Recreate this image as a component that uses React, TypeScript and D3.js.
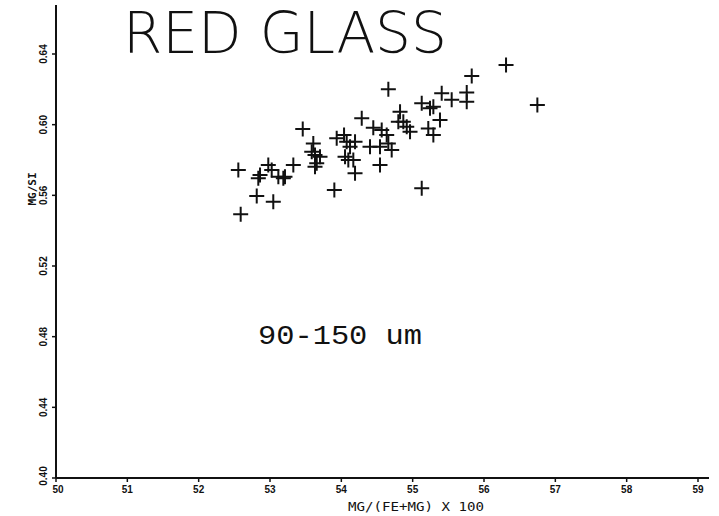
import React from "react";
import * as d3 from "d3";

const title = "RED GLASS";
const subtitle = "90-150 um";
const xTitle = "MG/(FE+MG) X 100";
const yTitle = "MG/SI";
const xTicks = [50, 51, 52, 53, 54, 55, 56, 57, 58, 59];
const xTickLabels = ["50", "51", "52", "53", "54", "55", "56", "57", "58", "59"];
const yTicks = [0.4, 0.44, 0.48, 0.52, 0.56, 0.6, 0.64];
const yTickLabels = ["0.40", "0.44", "0.48", "0.52", "0.56", "0.60", "0.64"];

const mgNumber = [
  52.556, 52.589, 52.814, 53.046, 52.836, 52.86, 52.976, 53.024, 53.117, 53.187,
  53.21, 53.327, 53.459, 53.607, 53.585, 53.631, 53.701, 53.655, 53.631, 53.902,
  53.935, 54.038, 54.075, 54.122, 54.192, 54.052, 54.098, 54.168, 54.192, 54.286,
  54.402, 54.448, 54.542, 54.566, 54.636, 54.659, 54.706, 54.542, 54.659, 54.823,
  54.799, 54.869, 54.917, 54.963, 55.127, 55.127, 55.243, 55.29, 55.219, 55.29,
  55.383, 55.407, 55.547, 55.758, 55.758, 55.828, 56.309, 56.748,
];
const mgSi = [
  0.5743, 0.5493, 0.5596, 0.5564, 0.5696, 0.5715, 0.5772, 0.5743, 0.5705, 0.5696,
  0.5705, 0.5772, 0.5975, 0.5894, 0.5847, 0.5828, 0.5819, 0.5781, 0.5762, 0.563,
  0.5923, 0.5941, 0.5904, 0.5875, 0.5904, 0.5819, 0.58, 0.58, 0.5725, 0.6036,
  0.5875, 0.5983, 0.5875, 0.597, 0.5941, 0.5894, 0.5857, 0.5772, 0.62, 0.6073,
  0.6017, 0.6017, 0.5988, 0.596, 0.6121, 0.564, 0.6093, 0.6102, 0.5979, 0.5941,
  0.6026, 0.6178, 0.6141, 0.6182, 0.613, 0.6275, 0.6338, 0.6111,
];

const W = 719;
const H = 516;

export default function App() {
  const x = d3.scaleLinear().domain([50, 59]).range([56, 698]);
  const y = d3.scaleLinear().domain([0.4, 0.64]).range([478, 54]);
  const x0 = x(50);
  const y0 = y(0.4);
  const xEnd = x.invert(709);
  const yEnd = y.invert(5);
  const tickFont = "'Liberation Sans Narrow', 'Liberation Sans', sans-serif";
  const arm = 7.5;

  return (
    <svg
      width={W}
      height={H}
      viewBox={`0 0 ${W} ${H}`}
      style={{ position: "absolute", left: 0, top: 0, display: "block", background: "#fff" }}
    >
      <rect x={0} y={0} width={W} height={H} fill="#fff" />
      {/* axes */}
      <line x1={x0} y1={y0} x2={x(xEnd)} y2={y0} stroke="#111" strokeWidth={2} />
      <line x1={x0} y1={y0} x2={x0} y2={y(yEnd)} stroke="#111" strokeWidth={2} />
      {xTicks.map((t, i) => (
        <g key={"xt" + i}>
          <line x1={x(t)} x2={x(t)} y1={y0} y2={y0 + 4} stroke="#111" strokeWidth={1.5} />
          <text
            x={x(t) + (i === 0 ? 2 : 0)}
            y={y0 + 15}
            textAnchor="middle"
            fontFamily={tickFont}
            fontWeight="bold"
            fontSize={10}
            fill="#111"
          >
            {xTickLabels[i]}
          </text>
        </g>
      ))}
      {yTicks.map((t, i) => (
        <g key={"yt" + i}>
          <line x1={x0 - 4} x2={x0} y1={y(t)} y2={y(t)} stroke="#111" strokeWidth={1.5} />
          <text
            transform={`translate(${x0 - 9},${y(t) + (i === 0 ? -2 : 0)}) rotate(-90)`}
            textAnchor="middle"
            fontFamily={tickFont}
            fontWeight="bold"
            fontSize={10}
            fill="#111"
          >
            {yTickLabels[i]}
          </text>
        </g>
      ))}
      <text
        x={416}
        y={511}
        textAnchor="middle"
        fontFamily="'DejaVu Sans Mono', monospace"
        fontSize={13}
        textLength={136}
        lengthAdjust="spacingAndGlyphs"
        fill="#111"
      >
        {xTitle}
      </text>
      <text
        transform={`translate(36,${189}) rotate(-90)`}
        textAnchor="middle"
        fontFamily="'DejaVu Sans Mono', monospace"
        fontWeight="bold"
        fontSize={11}
        fill="#111"
      >
        {yTitle}
      </text>
      {/* title */}
      <text
        x={123}
        y={53}
        fontFamily="'DejaVu Sans', sans-serif"
        fontWeight={200}
        fontSize={57}
        textLength={324}
        lengthAdjust="spacingAndGlyphs"
        fill="#111"
      >
        {title}
      </text>
      <text
        x={258}
        y={344}
        fontFamily="'Liberation Mono', monospace"
        fontSize={27}
        textLength={164}
        lengthAdjust="spacingAndGlyphs"
        fill="#111"
      >
        {subtitle}
      </text>
      {/* points */}
      {mgNumber.map((v, i) => {
        const px = x(v);
        const py = y(mgSi[i]);
        return (
          <path
            key={"p" + i}
            d={`M${px - arm},${py}H${px + arm}M${px},${py - arm}V${py + arm}`}
            stroke="#111"
            strokeWidth={2}
            fill="none"
          />
        );
      })}
    </svg>
  );
}
